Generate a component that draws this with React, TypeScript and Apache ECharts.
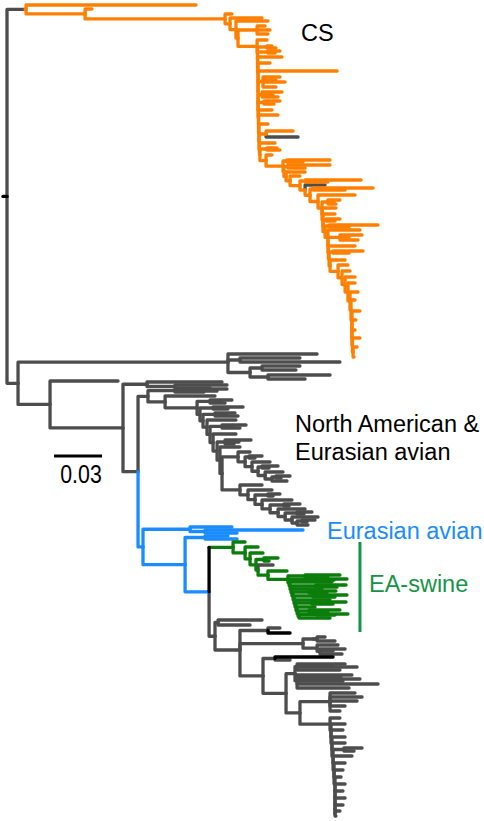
import React, { useEffect, useRef } from 'react';
import * as echarts from 'echarts';

// ---- Tree data -------------------------------------------------------------
// Newick-like strings: "label:depth" where depth = distance from root in units
// of 0.001 substitutions/site. Leaf labels = tip position (rank along the tip
// axis) with optional colour letter; internal labels = optional colour letter.
// Colours: g gray, o orange (CS), b blue (Eurasian avian), e green (EA-swine), k black.

const rootStub = -2.5;

// CS clade: ladder (trunk node depths + side subtrees, last side = final tip)
const csTrunk = [11.9, 48.8, 136.3, 139.4, 143.1, 144.4, 156.3, 156.6, 156.6, 156.6, 156.9, 156.9, 156.9, 156.9, 156.9, 157.2, 157.2, 157.5, 157.5, 157.8, 158.1, 161.9, 172.5, 173.1, 174.4, 176.9, 183.1, 186.3, 189.4, 194.4, 196.9, 196.9, 197.5, 197.5, 198.8, 200.6, 200.6, 200.9, 201.3, 201.9, 206.9, 209.4, 211.3, 213.1, 214.4, 215, 215.6, 215.6, 215.6, 215.9, 216.3];
const csSides = [
  '5:118.1', '9:53.1', '14:140.6', '18:159.4', '21:163.1',
  '(26:161.3,30:164.4,34:163.1):156.3', '40:162.5', '(46:165.6,48:168.1):162.5', '(51:170.6,53:167.5):163.1', '57:171.9',
  '63:164.4', '71:206.3', '(77:170.6,80:168.1,82:173.8,87:168.1):160', '(92:171.9,95:166.3,97:169.4):159.4', '(101:170.6,104:166.9):160.6',
  '110:165.6', '115:169.4', '124:163.1', '(131:178.8,137g:181.9):161.9', '143:167.5',
  '(148:168.8,150:170.6):162.5', '155:165.6', '(160:201.9,162:185):175', '(165:201.9,168:186.3):175.6', '172:186.3',
  '176:183.1', '(180:221.3,182:200.6):186.3', '185g:198.8', '(188:228.8,190:211.3):191.3', '195:217.5',
  '(200:208.1,202:204.4,204:205.6):200.6', '208:205.6', '214:205', '(219:208.1,221:205):199.4', '(225:231.9,227:213.8):201.3',
  '230:220.6', '(235:221.9,237:213.8,240:219.4):208.1', '246:217.5', '(251:222.5,253:213.8):203.8', '260:211.3',
  '265:213.1', '271:214.4', '277:217.5', '283:217.5', '292:219.4',
  '300:217.5', '311:220.6', '320:218.1', '330:217.5', '338:220.6',
  '347:218.8', '357:216.9',
];

const smallGrayClade = '(354:193.8,(358:183.1,362:208.1):145.6,((366:183.1,370:180.6):159.4,(375:201.9,379:186.3):163.1):151.9):138.1';
const singleTip = '381:69.4';

// North American & Eurasian avian
const naTop = '(382:134.4,(385:137.5,388:126.9):105):87.5';
const naTrunk = [88.1, 98.8, 118.8, 120.6, 122.5, 125, 126.9, 128.8, 131.3, 133.1, 134.4];
const naSides = [
  '(389:137.5,391:131.3,392:123.1):105', '396:130', '(400:140.6,401:133.8,403:136.3):126.9', '(407:147.5,409:138.1):128.8',
  '(413:142.5,414:136.9,416:144.4):130', '420:143.1', '(425:149.4,426:141.3,428:145.6):134.4', '434:143.1',
  '(440:152.5,442:145,444:141.9):136.3', '447:145.6',
];
const naSub1Trunk = [144.4, 148.8, 153.1, 156.9, 161.3, 165.6];
const naSub1Sides = ['452:151.9', '(456:159.4,458:155):151.3', '462:164.4', '(466:169.4,468:163.8):159.4', '472:172.5', '(476:176.9,478:171.3):168.1', '481:175'];
const naSub2Trunk = [145.6, 150.6, 155, 159.4, 164.4, 169.4, 173.8, 178.1, 181.3];
const naSub2Sides = ['485:159.4', '490:165.6', '(494:170.6,496:166.3):163.1', '500:178.1', '(504:183.1,506:176.3):173.1', '509:186.3', '(512:190.6,514:185.6):181.3', '517:194.4', '(520:192.5,522:187.5):184.4', '525:188.1'];

// Eurasian avian (blue)
const eaAvianA = '(527:140.6,(530:185,533:143.8):123.8):114.4';
const eaAvianB = '(536:138.1,539:143.8):123.8';

// EA-swine (green)
const swineTrunk = [141.3, 148.8, 151.9, 155.6, 156.9, 163.1];
const swineSides = ['542:148.8', '547:156.9', '553:160', '(558:169.4,561:163.8):160.6', '565g:166.3', '571:175'];
const swineDenseTrunk = [175.6, 176.3, 176.9, 177.5, 178.1, 178.8, 179.4, 180, 180.6, 181.3, 181.9, 182.5];
const swineDenseSides = ['(575:208.1,577:200.6):186.3', '(579:212.5,580:204.4):190', '582:203.1', '(585:211.9,587:206.3):193.1', '589:196.9', '(591:205.6,593:200):188.8', '(595:212.5,597:205):191.3', '600:201.9', '(602:211.9,604:203.8):190.6', '607:192.5', '(610:208.1,612:200.6):188.8', '(614:213.1,615:205):193.8', '618:201.9'];

// lower gray clade
const lowF1 = '(620:159.4,625:151.9):131.9';
const lowG1 = '(628:170.6,633k:176.9):163.1';
const lowG2 = '((637:198.8,639:191.3,641:205):193.8,(645:206.9,(649:211.3,651:203.8,654:209.4):195.6):193.8):185';
const lowH1 = '(657k:203.8,660:176.9):167.5';
const lowI1a = '(664:211.3,666:203.8,667:218.8,670:208.1):181.3';
const lowI1b = '(675:215.6,677:208.8,679:220.6,681:210,684:231.9,688:213.8):181.3';
const lowJ1 = '(693:217.5,697:221.9,701:218.8,706:211.3,711:208.1):201.9';
const lowKTrunk = [201.9, 202.5, 202.5, 203.1, 203.1, 203.8, 203.8, 204.4, 204.4, 205, 205, 205, 205, 205, 205];
const lowKSides = ['718:208.1', '724:211.3', '730:210', '737:211.3', '743:211.3', '(748:221.9,751:216.9):210.6', '756:215.6', '763:211.3', '770:210', '777:208.8', '784:211.3', '791:210', '798:211.3', '805:210', '811:208.1', '816:205.6'];

// scale bar & annotation
const scaleBarStart = 29.4;
const scaleBarLength = 30; // 0.03 subst./site
const scaleBarY = 456;
const swineBracket = [220.6, 542, 632];

const palette: Record<string, string> = {
  g: '#4d4d4d', o: '#ff8000', b: '#1a8cff', e: '#0b7d0b', k: '#000000',
};
const colorOrder = ['g', 'o', 'b', 'e', 'k'];

// ---- Tree assembly -----------------------------------------------------------
function ladder(trunk: number[], sides: string[], color = ''): string {
  const n = trunk.length;
  let s = `(${sides[n - 1]},${sides[n]})${n === 1 ? color : ''}:${trunk[n - 1]}`;
  for (let i = n - 2; i >= 0; i--) s = `(${sides[i]},${s})${i === 0 ? color : ''}:${trunk[i]}`;
  return s;
}

const csClade = `(${ladder(csTrunk, csSides, 'o')})g:11.3`;
const naClade2 = ladder(naTrunk, [...naSides, ladder(naSub1Trunk, naSub1Sides), ladder(naSub2Trunk, naSub2Sides)]);
const swine = ladder(swineTrunk, [...swineSides, ladder(swineDenseTrunk, swineDenseSides)], 'e');
const lowK = ladder(lowKTrunk, lowKSides);
const lower = `(${lowF1},(${lowG1},${lowG2},(${lowH1},((${lowI1a},${lowI1b}):180,(${lowJ1},${lowK}):183.1):174.4):160):145.6)g:130`;
const nodeE = `((${swine})k:126.3,${lower})b:126.3`;
const nodeC = `(${eaAvianA},(${eaAvianB},${nodeE}):111.3)b:85`;
const nodeB = `(${naClade2},${nodeC}):81.9`;
const lowerBackbone = `(${smallGrayClade},(${singleTip},(${naTop},${nodeB}):72.5):26.9):6.9`;
const treeString = `(${csClade},${lowerBackbone})g:0`;

type TNode = { d: number; y: number; c: string; kids: TNode[]; leafY: number };

function parseTree(src: string): TNode {
  const s = src.replace(/\s+/g, '');
  let i = 0;
  function node(): TNode {
    const kids: TNode[] = [];
    if (s[i] === '(') {
      i++;
      kids.push(node());
      while (s[i] === ',') { i++; kids.push(node()); }
      i++;
    }
    let label = '';
    while (i < s.length && s[i] !== ':') label += s[i++];
    i++;
    let num = '';
    while (i < s.length && /[-0-9.]/.test(s[i])) num += s[i++];
    const m = label.match(/^([-0-9.]*)([a-z]?)$/) || ['', '', ''];
    return { d: parseFloat(num), y: 0, c: m[2] || '', kids, leafY: kids.length ? NaN : parseFloat(m[1]) };
  }
  return node();
}

function layout(n: TNode, inherited: string) {
  if (!n.c) n.c = inherited;
  if (!n.kids.length) { n.y = n.leafY; return; }
  n.kids.forEach((k) => layout(k, n.c));
  n.y = n.kids.reduce((a, k) => a + k.y, 0) / n.kids.length;
}

const root = parseTree(treeString);
layout(root, 'g');

const segments: number[][] = [[rootStub, root.y, root.d, root.y, colorOrder.indexOf('k')]];
(function walk(n: TNode) {
  n.kids.forEach((k) => {
    segments.push([n.d, n.y, k.d, k.y, colorOrder.indexOf(k.c)]);
    walk(k);
  });
})(root);
segments.sort((a, b) => a[4] - b[4]);

const annotations = [
  [scaleBarStart, scaleBarY, scaleBarStart + scaleBarLength, scaleBarY, 0],
  [swineBracket[0], swineBracket[1], swineBracket[0], swineBracket[2], 1],
];
const annotationColors = ['#000000', '#179347'];

const FONT = '"Liberation Sans", Arial, Helvetica, sans-serif';
const LABEL_FONT = `23.5px ${FONT}`;

export default function App() {
  const ref = useRef<HTMLDivElement>(null);
  useEffect(() => {
    const chart = echarts.init(ref.current!, null, { renderer: 'svg' });
    chart.setOption({
      animation: false,
      textStyle: { fontFamily: FONT },
      grid: { left: 0, right: 0, top: 0, bottom: 0 },
      xAxis: { type: 'value', min: -4.375, max: 298.125, show: false },
      yAxis: { type: 'value', min: 0, max: 821, inverse: true, show: false },
      series: [
        {
          type: 'custom',
          coordinateSystem: 'cartesian2d',
          clip: false,
          encode: { x: [0, 2], y: [1, 3] },
          data: segments,
          renderItem: (_p: any, api: any) => {
            const a = api.coord([api.value(0), api.value(1)]);
            const b = api.coord([api.value(0), api.value(3)]);
            const c = api.coord([api.value(2), api.value(3)]);
            return {
              type: 'polyline',
              shape: { points: [a, b, c] },
              style: { stroke: palette[colorOrder[api.value(4)]], lineWidth: 3.3, fill: 'none', lineCap: 'round', lineJoin: 'round' },
            };
          },
        },
        {
          type: 'custom',
          coordinateSystem: 'cartesian2d',
          clip: false,
          encode: { x: [0, 2], y: [1, 3] },
          data: annotations,
          renderItem: (_p: any, api: any) => {
            const a = api.coord([api.value(0), api.value(1)]);
            const b = api.coord([api.value(2), api.value(3)]);
            return {
              type: 'line',
              shape: { x1: a[0], y1: a[1], x2: b[0], y2: b[1] },
              style: { stroke: annotationColors[api.value(4)], lineWidth: 3 },
            };
          },
        },
      ],
      graphic: [
        { type: 'text', x: 301, y: 32.5, style: { text: 'CS', font: LABEL_FONT, fill: '#000', textVerticalAlign: 'middle' } },
        { type: 'text', x: 295, y: 424, style: { text: 'North American &', font: LABEL_FONT, fill: '#000', textVerticalAlign: 'middle' } },
        { type: 'text', x: 295, y: 451.5, style: { text: 'Eurasian avian', font: LABEL_FONT, fill: '#000', textVerticalAlign: 'middle' } },
        { type: 'text', x: 327, y: 531, style: { text: 'Eurasian avian', font: LABEL_FONT, fill: '#1a8cff', textVerticalAlign: 'middle' } },
        { type: 'text', x: 369, y: 584, style: { text: 'EA-swine', font: LABEL_FONT, fill: '#179347', textVerticalAlign: 'middle' } },
        { type: 'text', x: 81, y: 473.5, scaleX: 0.82, style: { text: (scaleBarLength / 1000).toFixed(2), font: `26px ${FONT}`, fill: '#000', textAlign: 'center', textVerticalAlign: 'middle' } },
      ],
    });
    return () => chart.dispose();
  }, []);
  return <div ref={ref} style={{ position: 'absolute', left: 0, top: 0, width: 484, height: 821 }} />;
}
